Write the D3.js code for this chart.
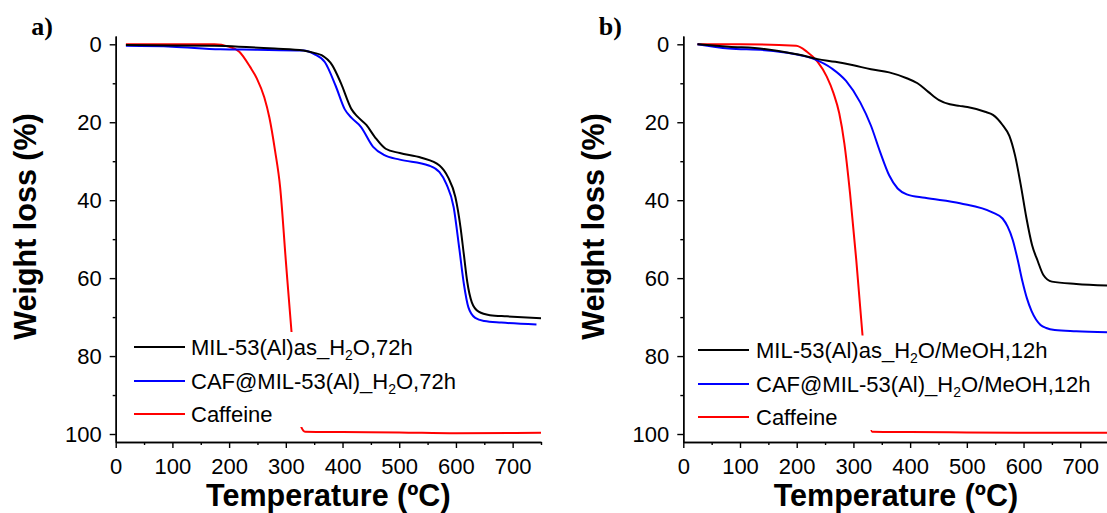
<!DOCTYPE html>
<html>
<head>
<meta charset="utf-8">
<script src="https://cdn.jsdelivr.net/npm/d3@7/dist/d3.min.js"></script>
<style>
  body { margin: 0; background: #fff; }
  text { font-family: "Liberation Sans", Arial, sans-serif; fill: #000; }
</style>
</head>
<body>
<svg id="chart" width="1107" height="513"></svg>
<script>
// ---- TGA data: temperature (ºC) and weight loss (%) ----
const xMajorTicks = [0, 100, 200, 300, 400, 500, 600, 700];
const xMinorTicks = [50, 150, 250, 350, 450, 550, 650, 750];
const yMajorTicks = [0, 20, 40, 60, 80, 100];
const yMinorTicks = [10, 30, 50, 70, 90];

// panel a) synthesis in water, 72 h
const milH2OTemp = [18, 100, 174, 217, 280, 331, 350, 363, 382, 397, 416, 426, 442, 457, 476, 501, 539, 571, 586, 599, 608, 614, 620, 628, 640, 660, 690, 750];
const milH2OLoss = [0.2, 0.3, 0.4, 0.6, 1.1, 1.6, 2.2, 2.8, 5.4, 9.9, 16.7, 18.5, 20.7, 23.8, 26.8, 27.9, 29.1, 31.1, 34.1, 39.2, 46.9, 54, 61, 66.2, 68.6, 69.5, 69.8, 70.3];
const cafH2OTemp = [18, 100, 184, 250, 331, 350, 369, 388, 404, 416, 432, 454, 473, 501, 552, 571, 583, 596, 606, 614, 622, 634, 650, 680, 742];
const cafH2OLoss = [0.4, 0.6, 1.3, 1.4, 1.6, 2.5, 4.6, 10.7, 16.7, 18.9, 21.1, 26.3, 28.4, 29.6, 31.1, 32.8, 35.8, 41.8, 52.5, 61.5, 67.5, 70.2, 71.0, 71.4, 71.9];
const caffeineATemp = [18, 100, 174, 199, 218, 237, 249, 262, 271, 281, 290, 300, 310, 318, 327, 334, 400, 500, 600, 750];
const caffeineALoss = [0, 0, 0, 0.6, 1.9, 5.8, 8.8, 13.6, 18.8, 27.3, 36.7, 55.5, 73.7, 86, 98.1, 99.4, 99.5, 99.6, 99.8, 99.7];

// panel b) synthesis in water/methanol, 12 h
const milMeOHTemp = [25, 80, 143, 205, 237, 268, 300, 331, 363, 394, 413, 432, 451, 470, 487, 501, 532, 546, 563, 575, 585, 595, 605, 615, 625, 635, 650, 693, 750];
const milMeOHLoss = [0, 0.6, 1.2, 2.7, 3.8, 4.5, 5.4, 6.4, 7.2, 8.7, 10.0, 12.2, 14.3, 15.4, 15.8, 16.1, 17.3, 18.1, 20.7, 23.5, 28.5, 36, 44.5, 51.5, 55.6, 59.2, 60.9, 61.5, 61.9];
const cafMeOHTemp = [25, 80, 143, 193, 231, 262, 287, 312, 331, 347, 363, 378, 394, 426, 488, 546, 563, 572, 581, 590, 598, 606, 614, 622, 630, 640, 655, 693, 750];
const cafMeOHLoss = [0, 1.1, 1.5, 2.4, 3.8, 6.2, 9.4, 14.9, 20.9, 27.6, 33.6, 37.0, 38.5, 39.4, 40.8, 43.2, 44.7, 46.8, 50.2, 55.5, 60.8, 65.2, 68.4, 70.6, 72.0, 72.8, 73.3, 73.6, 73.9];
const caffeineBTemp = [25, 100, 199, 218, 237, 253, 265, 275, 284, 294, 305, 316, 324, 333, 400, 500, 600, 750];
const caffeineBLoss = [0, 0, 0.4, 1.9, 4.5, 8.3, 12.6, 17.7, 25.4, 38.2, 55.3, 74.6, 90, 99.4, 99.5, 99.6, 99.7, 99.7];

const seriesColors = ["#000000", "#0000ff", "#ff0000"];
const panelLetters = ["a)", "b)"];
const legendA = [
  ["MIL-53(Al)as_H", "2", "O,72h"],
  ["CAF@MIL-53(Al)_H", "2", "O,72h"],
  ["Caffeine", "", ""]
];
const legendB = [
  ["MIL-53(Al)as_H", "2", "O/MeOH,12h"],
  ["CAF@MIL-53(Al)_H", "2", "O/MeOH,12h"],
  ["Caffeine", "", ""]
];

const zip = (t, w) => t.map((v, i) => ({ t: v, w: w[i] }));

const panels = [
  {
    letter: panelLetters[0], left: 115.7,
    series: [zip(milH2OTemp, milH2OLoss), zip(cafH2OTemp, cafH2OLoss), zip(caffeineATemp, caffeineALoss)],
    legend: legendA, legendBox: { x: 128, y: 332, w: 318, h: 95 },
    legendRows: [347, 381, 414], legendLine: [134, 185], legendText: 191
  },
  {
    letter: panelLetters[1], left: 683.3,
    series: [zip(milMeOHTemp, milMeOHLoss), zip(cafMeOHTemp, cafMeOHLoss), zip(caffeineBTemp, caffeineBLoss)],
    legend: legendB, legendBox: { x: 692, y: 335.5, w: 415, h: 94.5 },
    legendRows: [350, 384, 417], legendLine: [698, 749], legendText: 756
  }
];

const svg = d3.select("#chart");
svg.append("rect").attr("width", 1107).attr("height", 513).attr("fill", "#fff");

const plotWidth = 425.3, plotTop = 36, plotBottom = 442;
const y = d3.scaleLinear().domain([-2.13, 102.05]).range([plotTop, plotBottom]);

panels.forEach(p => {
  const x = d3.scaleLinear().domain([0, 750]).range([p.left, p.left + plotWidth]);
  const g = svg.append("g");

  const line = d3.line()
    .x(d => x(d.t))
    .y(d => y(d.w))
    .curve(d3.curveMonotoneX);

  // curves: caffeine first so the MOF curves sit on top
  [2, 1, 0].forEach(i => {
    g.append("path")
      .datum(p.series[i])
      .attr("d", line)
      .attr("fill", "none")
      .attr("stroke", seriesColors[i])
      .attr("stroke-width", 2)
      .attr("stroke-linejoin", "round");
  });

  // axes
  const xMinor = g.append("g").attr("transform", `translate(0,${plotBottom})`)
    .call(d3.axisBottom(x).tickValues(xMinorTicks).tickSize(3).tickSizeOuter(0).tickFormat(""));
  const xMajor = g.append("g").attr("transform", `translate(0,${plotBottom})`)
    .call(d3.axisBottom(x).tickValues(xMajorTicks).tickSize(6).tickSizeOuter(0).tickPadding(10));
  const yMinor = g.append("g").attr("transform", `translate(${p.left},0)`)
    .call(d3.axisLeft(y).tickValues(yMinorTicks).tickSize(3).tickSizeOuter(0).tickFormat(""));
  const yMajor = g.append("g").attr("transform", `translate(${p.left},0)`)
    .call(d3.axisLeft(y).tickValues(yMajorTicks).tickSize(6).tickSizeOuter(0).tickPadding(8));

  [xMinor, xMajor, yMinor, yMajor].forEach(a => {
    a.selectAll("path, line").attr("stroke", "#000").attr("stroke-width", 1.4);
    a.selectAll("text")
      .style("font-family", '"Liberation Sans", Arial, sans-serif')
      .style("font-size", "22px")
      .attr("fill", "#000");
  });

  // axis titles
  g.append("text")
    .attr("x", p.left + plotWidth / 2).attr("y", 506)
    .attr("text-anchor", "middle")
    .style("font-size", "30.5px").style("font-weight", "bold")
    .text("Temperature (ºC)");
  g.append("text")
    .attr("transform", `translate(${p.left - 79.7},226.5) rotate(-90)`)
    .attr("text-anchor", "middle")
    .style("font-size", "30.5px").style("font-weight", "bold")
    .text("Weight loss (%)");

  // panel letter
  g.append("text")
    .attr("x", p.left - 84.5).attr("y", 35)
    .style("font-family", '"Liberation Serif", "Times New Roman", serif')
    .style("font-size", "26px").style("font-weight", "bold")
    .text(p.letter);

  // legend with opaque background
  const lg = g.append("g");
  lg.append("rect")
    .attr("x", p.legendBox.x).attr("y", p.legendBox.y)
    .attr("width", p.legendBox.w).attr("height", p.legendBox.h)
    .attr("fill", "#fff");
  p.legend.forEach((parts, i) => {
    const ry = p.legendRows[i];
    lg.append("line")
      .attr("x1", p.legendLine[0]).attr("x2", p.legendLine[1])
      .attr("y1", ry).attr("y2", ry)
      .attr("stroke", seriesColors[i]).attr("stroke-width", 2);
    const t = lg.append("text")
      .attr("x", p.legendText).attr("y", ry + 8)
      .style("font-size", "22px");
    t.append("tspan").text(parts[0]);
    if (parts[1]) {
      t.append("tspan").attr("dy", 5).style("font-size", "14px").text(parts[1]);
      t.append("tspan").attr("dy", -5).text(parts[2]);
    }
  });
});
</script>
</body>
</html>
